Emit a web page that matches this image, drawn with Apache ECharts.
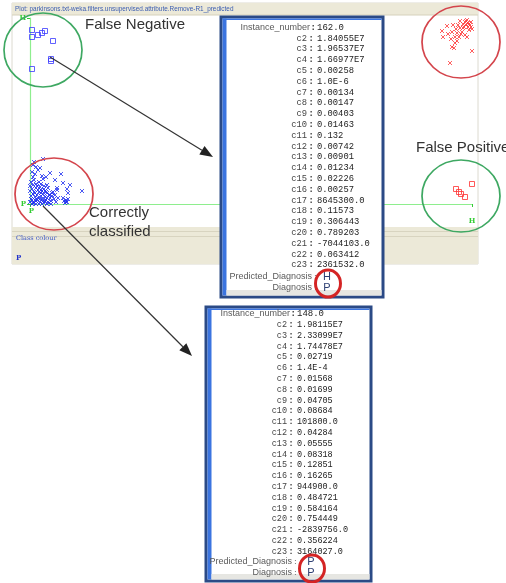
<!DOCTYPE html>
<html>
<head>
<meta charset="utf-8">
<script src="https://cdn.jsdelivr.net/npm/echarts@6/dist/echarts.min.js"></script>
<style>
  html, body { margin: 0; padding: 0; background: #fff; }
  #chart { width: 506px; height: 583px; }
</style>
</head>
<body>
<div id="chart"></div>
<script>
// plot units: x 0..442 (P -> H), y 0..186 (P -> H)
const axisNames = ["P", "H"];

// blue squares, predicted H but really P (false negative)
const falseNegative = [
  [2, 174], [2, 167], [8, 169], [12, 171], [15, 173], [23, 163], [21, 145], [21, 143], [2, 135]
];

// red squares, predicted P but really H (false positive)
const falsePositive = [
  [442, 20], [426, 15], [429, 12], [431, 10], [435, 7]
];

// red crosses, correctly classified H
const correctH = [
  [438, 181], [436, 183], [440, 179], [438, 177], [442, 175], [433, 180], [428, 179],
  [423, 179], [417, 178], [412, 173], [422, 172], [427, 171], [432, 172], [435, 169],
  [437, 167], [413, 167], [421, 165], [429, 167], [425, 161], [422, 157], [424, 156],
  [442, 153], [420, 141], [430, 176], [426, 175], [441, 182], [434, 177], [439, 174],
  [430, 183], [437, 184], [439, 180], [435, 182], [441, 177], [436, 179], [433, 176],
  [431, 170], [425, 167], [418, 170], [427, 163]
];

// blue crosses, correctly classified P
const correctP = [
  [3, 39], [6, 37], [2, 32], [3, 27], [13, 25], [20, 31], [12, 28], [31, 30], [25, 24],
  [33, 21], [40, 19], [37, 15], [38, 11], [27, 16], [52, 13], [33, 6], [36, 2], [22, 11],
  [17, 19], [13, 45], [4, 42], [8, 34], [10, 36], [5, 30], [9, 22], [16, 27],
  [0, 2], [2, 4], [4, 1], [6, 3], [8, 6], [10, 2], [12, 5], [14, 1], [16, 4], [18, 2], [20, 6],
  [1, 8], [3, 10], [5, 7], [7, 9], [9, 12], [11, 8], [13, 10], [15, 7], [17, 11], [19, 9],
  [0, 13], [2, 15], [4, 12], [6, 16], [8, 14], [10, 17], [12, 13], [14, 15], [16, 12], [18, 16],
  [1, 5], [3, 1], [5, 11], [7, 4], [9, 0], [11, 14], [13, 3], [15, 13], [17, 6], [19, 1],
  [21, 3], [22, 8], [24, 5], [23, 12], [26, 2], [25, 9], [28, 6], [27, 14],
  [0, 18], [3, 19], [6, 20], [1, 22], [4, 24], [7, 18], [11, 20], [14, 18],
  [2, 0], [6, 0], [12, 0], [17, 0], [21, 0], [5, 4], [10, 5], [15, 3], [20, 9], [11, 11],
  [34, 3], [36, 4], [35, 1], [37, 2], [38, 5]
];

const popupLabels = [
  "c2", "c3", "c4", "c5", "c6", "c7", "c8", "c9", "c10", "c11", "c12",
  "c13", "c14", "c15", "c16", "c17", "c18", "c19", "c20", "c21", "c22", "c23"
];

const instanceA = "162.0";
const valuesA = [
  "1.84055E7", "1.96537E7", "1.66977E7", "0.00258", "1.0E-6", "0.00134", "0.00147",
  "0.00403", "0.01463", "0.132", "0.00742", "0.00901", "0.01234", "0.02226", "0.00257",
  "8645300.0", "0.11573", "0.306443", "0.789203", "-7044103.0", "0.063412", "2361532.0"
];
const predictedA = "H";
const actualA = "P";

const instanceB = "148.0";
const valuesB = [
  "1.98115E7", "2.33099E7", "1.74478E7", "0.02719", "1.4E-4", "0.01568", "0.01699",
  "0.04705", "0.08684", "101800.0", "0.04284", "0.05555", "0.08318", "0.12851", "0.16265",
  "944900.0", "0.484721", "0.584164", "0.754449", "-2839756.0", "0.356224", "3164027.0"
];
const predictedB = "P";
const actualB = "P";

const chart = echarts.init(document.getElementById("chart"), null, { renderer: "canvas" });

const beige = "#ece9d8";
const green = "#33cc33";
const sans = "'Liberation Sans', Arial, sans-serif";
const mono = "'Liberation Mono', 'Courier New', monospace";

function text(x, y, str, font, fill, align, z) {
  return {
    type: "text", x: x, y: y, z: z || 10,
    style: { text: str, font: font, fill: fill, align: align || "left", verticalAlign: "middle" }
  };
}

function ellipse(cx, cy, rx, ry, color, width, z) {
  return {
    type: "circle", x: cx, y: cy, z: z || 20, scaleX: rx / ry,
    shape: { cx: 0, cy: 0, r: ry },
    style: { fill: "none", stroke: color, lineWidth: width || 1.6 }
  };
}

function arrow(x1, y1, x2, y2) {
  const a = Math.atan2(y2 - y1, x2 - x1);
  const len = 13, half = 5;
  const bx = x2 - len * Math.cos(a), by = y2 - len * Math.sin(a);
  return [
    { type: "line", z: 30, shape: { x1: x1, y1: y1, x2: bx, y2: by }, style: { stroke: "#333", lineWidth: 1.2 } },
    {
      type: "polygon", z: 30,
      shape: { points: [[x2, y2], [bx + half * Math.sin(a), by - half * Math.cos(a)], [bx - half * Math.sin(a), by + half * Math.cos(a)]] },
      style: { fill: "#222" }
    }
  ];
}

function popup(box, inst, values, pred, actual) {
  const els = [];
  const z = 40;
  els.push({ type: "rect", z: z, shape: { x: box.x, y: box.y, width: box.w, height: box.h }, style: { fill: "#fff", stroke: "#2b4a86", lineWidth: 3 } });
  els.push({ type: "rect", z: z + 1, shape: { x: box.x + 1.5, y: box.y + 1.5, width: 4, height: box.h - 3 }, style: { fill: "#3b74e0" } });
  els.push({ type: "rect", z: z + 1, shape: { x: box.x + 1.5, y: box.y + 1.5, width: box.w - 3, height: 1.5 }, style: { fill: "#3b74e0" } });
  els.push({ type: "rect", z: z + 1, shape: { x: box.x + 5.5, y: box.y + box.h - 7, width: box.w - 7, height: 5.5 }, style: { fill: "#e6e6e2" } });

  const colX = box.colX;
  els.push(text(colX - 3, box.top, "Instance_number", "9px " + sans, "#5a5a5a", "right", z + 2));
  els.push(text(colX - 2.5, box.top, ":", "bold 9px " + mono, "#333", "left", z + 2));
  els.push(text(colX + 4, box.top, inst, "9px " + mono, "#222", "left", z + 2));
  popupLabels.forEach((lab, i) => {
    const y = box.top + (i + 1) * 10.8;
    els.push(text(colX - 6, y, lab, box.fs + "px " + mono, "#444", "right", z + 2));
    els.push(text(colX - 4.5, y, ":", "bold " + box.fs + "px " + mono, "#333", "left", z + 2));
    els.push(text(colX + 4, y, values[i], box.fs + "px " + mono, "#222", "left", z + 2));
  });
  els.push(text(colX - 1, box.predY, "Predicted_Diagnosis", "9px " + sans, "#5a5a5a", "right", z + 2));
  els.push(text(colX - 1, box.actY, "Diagnosis", "9px " + sans, "#5a5a5a", "right", z + 2));
  els.push(text(colX, box.predY, ":", "8px " + mono, "#777", "left", z + 2));
  els.push(text(colX, box.actY, ":", "8px " + mono, "#777", "left", z + 2));
  els.push(text(box.markX, box.predY, pred, "11px " + sans, "#2d3f73", "center", z + 2));
  els.push(text(box.markX, box.actY, actual, "11px " + sans, "#2d3f73", "center", z + 2));
  els.push(ellipse(box.markX + 1, (box.predY + box.actY) / 2 + 1, 12.5, 13.5, "#d42424", 3.2, z + 3));
  return els;
}

const graphics = [
  // weka plot window
  { type: "rect", z: -5, shape: { x: 12, y: 3, width: 466, height: 261 }, style: { fill: "#fff", stroke: "#dcdad0", lineWidth: 1 } },
  { type: "rect", z: -4, shape: { x: 12, y: 3, width: 466, height: 12 }, style: { fill: beige } },
  { type: "rect", z: -4, shape: { x: 12, y: 14.5, width: 466, height: 1 }, style: { fill: "#d6d2bc" } },
  text(15, 9, "Plot: parkinsons.txt-weka.filters.unsupervised.attribute.Remove-R1_predicted", "6.4px " + sans, "#3a5cb0"),
  { type: "rect", z: -4, shape: { x: 12, y: 227, width: 466, height: 37 }, style: { fill: beige } },
  { type: "rect", z: -4, shape: { x: 12, y: 231, width: 466, height: 1 }, style: { fill: "#d8d4c0" } },
  { type: "rect", z: -4, shape: { x: 12, y: 236, width: 466, height: 1 }, style: { fill: "#d8d4c0" } },
  text(16, 238, "Class colour", "6.5px 'DejaVu Serif', serif", "#3a55c8"),
  text(16, 258, "P", "bold 7px 'DejaVu Serif', serif", "#2233cc"),

  // annotations
  text(85, 25, "False Negative", "15px " + sans, "#333"),
  text(416, 148, "False Positive", "15px " + sans, "#333"),
  text(89, 213, "Correctly", "15px " + sans, "#333"),
  text(89, 232, "classified", "15px " + sans, "#333"),
  ellipse(43, 50, 39, 37, "#3ea862"),
  ellipse(461, 42, 39, 36, "#d4454c"),
  ellipse(54, 194, 39, 36, "#d4454c"),
  ellipse(461, 196, 39, 36, "#3ea862")
]
  .concat(arrow(50, 57, 213, 157))
  .concat(arrow(43, 206, 192, 356))
  .concat(popup({ x: 221, y: 17, w: 162, h: 280, top: 27.5, colX: 313, fs: 8.8, predY: 277, actY: 288, markX: 327 }, instanceA, valuesA, predictedA, actualA))
  .concat(popup({ x: 206, y: 307, w: 165, h: 274, top: 314, colX: 293, fs: 8.5, predY: 562, actY: 573, markX: 311 }, instanceB, valuesB, predictedB, actualB));

const hollow = (color) => ({ color: "rgba(0,0,0,0)", borderColor: color, borderWidth: 1 });
const cross = "path://M0 0L10 10M10 0L0 10";
const axisFont = { color: green, fontFamily: "'DejaVu Serif', serif", fontWeight: "bold", fontSize: 7 };

const option = {
  animation: false,
  grid: { left: 30, top: 18, width: 442, height: 186 },
  xAxis: {
    type: "value", min: 0, max: 442, interval: 442,
    axisLine: { lineStyle: { color: "#8eee8e", width: 1.2 } },
    axisTick: { show: true, length: 3, lineStyle: { color: green } },
    splitLine: { show: false },
    axisLabel: {
      margin: 4,
      formatter: (v) => (v === 0 ? "{p|" + axisNames[0] + "}" : "{h|" + axisNames[1] + "}"),
      rich: {
        p: Object.assign({ padding: [0, 0, 0, 3] }, axisFont),
        h: Object.assign({ padding: [10, 0, 0, 0] }, axisFont)
      }
    }
  },
  yAxis: {
    type: "value", min: 0, max: 186, interval: 186,
    axisLine: { lineStyle: { color: "#8eee8e", width: 1.2 } },
    axisTick: { show: true, length: 3, lineStyle: { color: green } },
    splitLine: { show: false },
    axisLabel: Object.assign({ margin: 4, formatter: (v) => (v === 0 ? axisNames[0] : axisNames[1]) }, axisFont)
  },
  series: [
    { name: "P correct", type: "scatter", clip: false, symbol: cross, symbolSize: 4, itemStyle: hollow("#1f2ff0"), data: correctP },
    { name: "H correct", type: "scatter", clip: false, symbol: cross, symbolSize: 4, itemStyle: hollow("#ff3a3a"), data: correctH },
    { name: "False negative", type: "scatter", clip: false, symbol: "rect", symbolSize: 5, itemStyle: hollow("#3a3aff"), data: falseNegative },
    { name: "False positive", type: "scatter", clip: false, symbol: "rect", symbolSize: 5, itemStyle: hollow("#ff3030"), data: falsePositive }
  ],
  graphic: { elements: graphics }
};

chart.setOption(option);
</script>
</body>
</html>
